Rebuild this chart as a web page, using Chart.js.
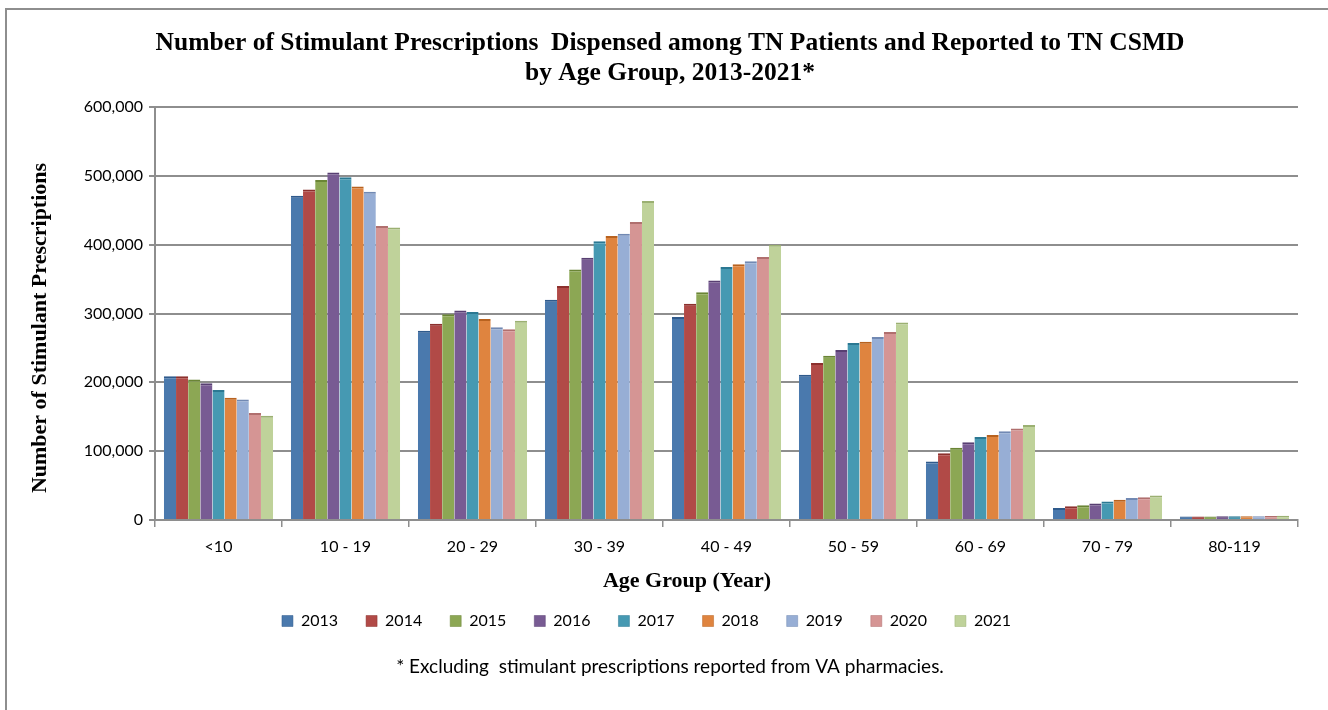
<!DOCTYPE html>
<html>
<head>
<meta charset="utf-8">
<script src="https://cdn.jsdelivr.net/npm/chart.js@4"></script>
<style>
  html, body { margin: 0; padding: 0; background: #fff; }
  #wrap { position: relative; width: 1328px; height: 710px; }
</style>
</head>
<body>
<div id="wrap"><canvas id="myChart" width="1328" height="710"></canvas></div>
<script>
// data

const ageGroups = ['<10', '10 - 19', '20 - 29', '30 - 39', '40 - 49', '50 - 59', '60 - 69', '70 - 79', '80-119']
const years = ['2013', '2014', '2015', '2016', '2017', '2018', '2019', '2020', '2021']

const y2013 = [209000, 471000, 275000, 320000, 295000, 211000, 85000, 17500, 5000]
const y2014 = [209000, 480000, 285000, 340000, 314000, 228000, 97000, 20000, 5200]
const y2015 = [204000, 494000, 299000, 364000, 331000, 238500, 105000, 21500, 5200]
const y2016 = [198500, 505000, 304500, 381000, 348000, 247000, 113000, 24000, 5300]
const y2017 = [189000, 498000, 302000, 405000, 367500, 257000, 120500, 27000, 5400]
const y2018 = [177500, 484500, 292000, 412500, 371500, 259000, 123500, 29300, 5500]
const y2019 = [175000, 477000, 280000, 416000, 376000, 266000, 129000, 31800, 5600]
const y2020 = [155500, 427000, 277000, 433000, 382000, 273000, 133000, 33200, 5800]
const y2021 = [151500, 425000, 289500, 463500, 400000, 287000, 138000, 35700, 6000]

const seriesValues = [y2013, y2014, y2015, y2016, y2017, y2018, y2019, y2020, y2021]

const yTicks = [0, 100000, 200000, 300000, 400000, 500000, 600000]

const fillColors = ['#4a79ad', '#b14a47', '#8ca754', '#785b93', '#4699b2', '#df843f', '#97aed5', '#d59594', '#bfd29a']
const capColors  = ['#2f5a8c', '#8c302d', '#6a8535', '#583f72', '#2b7892', '#b8621f', '#7189b3', '#b06f6e', '#9bb072']

const gray = '#8e8e8e'
const serif = '"Liberation Serif", "Times New Roman", serif'
const sans = 'Lato, sans-serif'
const xTitle = 'Age Group (Year)'
const yTitle = 'Number of Stimulant Prescriptions'

// border round the whole chart + both axis titles (not centred on the axes in the original)
const frame = {
    id: 'frame',
    beforeDraw(chart) {
        const c = chart.ctx
        c.save()
        c.fillStyle = '#fff'
        c.fillRect(0, 0, chart.width, chart.height)
        c.strokeStyle = gray
        c.lineWidth = 2
        c.beginPath()
        c.moveTo(6, chart.height)
        c.lineTo(6, 9)
        c.lineTo(chart.width, 9)
        c.stroke()
        c.restore()
    },
    afterDraw(chart) {
        const c = chart.ctx
        c.save()
        c.fillStyle = '#000'
        c.font = 'bold 22px ' + serif
        c.textAlign = 'center'
        c.textBaseline = 'middle'
        c.fillText(xTitle, 687, 581)
        c.translate(40, 328)
        c.rotate(-Math.PI / 2)
        c.fillText(yTitle, 0, 0)
        c.restore()
    }
}

const ctx = document.querySelector('#myChart').getContext('2d')

let chart = new Chart(ctx, {
    type: 'bar',
    data: {
        labels: ageGroups,
        datasets: years.map((yr, i) => ({
            label: yr,
            data: seriesValues[i],
            backgroundColor: fillColors[i],
            borderColor: capColors[i],
            borderWidth: { top: 2, left: 0, right: 0, bottom: 0 },
            borderSkipped: 'bottom',
            categoryPercentage: 0.86,
            barPercentage: 1.0
        }))
    },
    plugins: [frame],
    options: {
        responsive: false,
        animation: false,
        devicePixelRatio: 1,
        layout: { padding: { left: 42, right: 30, top: 0, bottom: 0 } },
        plugins: {
            tooltip: { enabled: false },
            title: {
                display: true,
                text: ['Number of Stimulant Prescriptions  Dispensed among TN Patients and Reported to TN CSMD',
                       'by Age Group, 2013-2021*'],
                color: '#000',
                font: { family: serif, size: 25.5, weight: 'bold', lineHeight: '30px' },
                padding: { top: 28, bottom: 19 }
            },
            legend: {
                position: 'bottom',
                maxHeight: 45,
                labels: {
                    color: '#000',
                    font: { family: sans, size: 16 },
                    boxWidth: 11,
                    boxHeight: 11,
                    padding: 28,
                    // an empty last entry nudges the row to the left like the original
                    generateLabels: ch => {
                        const items = Chart.defaults.plugins.legend.labels.generateLabels(ch)
                        items.push({ text: '', fillStyle: 'rgba(0,0,0,0)', strokeStyle: 'rgba(0,0,0,0)', lineWidth: 0, hidden: false, datasetIndex: -1 })
                        return items
                    }
                }
            },
            subtitle: {
                display: true,
                position: 'bottom',
                text: '* Excluding  stimulant prescriptions reported from VA pharmacies.',
                color: '#000',
                font: { family: sans, size: 19 },
                padding: { top: 25.6, bottom: 31.6 }
            }
        },
        scales: {
            x: {
                afterFit: s => { s.height = 65 },
                grid: {
                    offset: true,
                    drawOnChartArea: false,
                    tickLength: 7,
                    color: gray,
                    lineWidth: 1.5
                },
                border: { display: true, color: gray, width: 2 },
                ticks: {
                    color: '#000',
                    padding: 10,
                    font: { family: sans, size: 16 }
                }
            },
            y: {
                min: 0,
                max: 600000,
                afterFit: s => { s.width = 113 },
                afterBuildTicks: s => { s.ticks = yTicks.map(v => ({ value: v })) },
                grid: {
                    color: gray,
                    lineWidth: 2,
                    tickLength: 6
                },
                border: { display: true, color: gray, width: 2 },
                ticks: {
                    color: '#000',
                    padding: 6,
                    font: { family: sans, size: 16 },
                    callback: v => v.toLocaleString('en-US')
                }
            }
        }
    }
})
</script>
</body>
</html>
